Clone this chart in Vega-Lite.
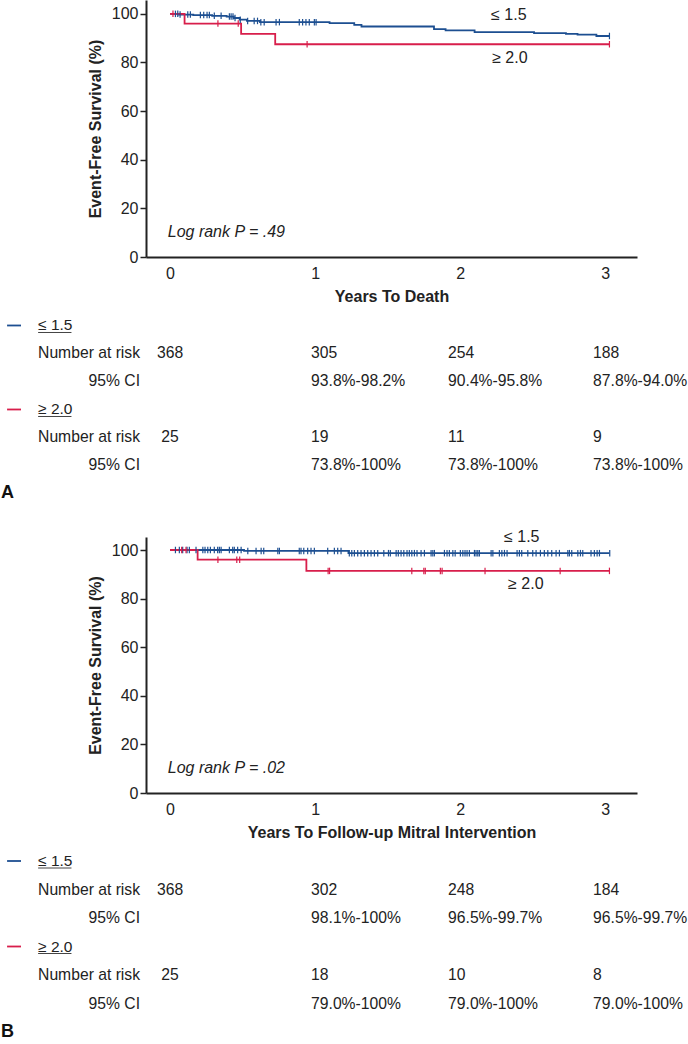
{
  "$schema": "https://vega.github.io/schema/vega-lite/v6.json",
  "padding": 0,
  "spacing": 0,
  "bounds": "flush",
  "config": {
    "font": "Liberation Sans",
    "view": {"stroke": null},
    "axis": {
      "grid": false,
      "labelColor": "#222",
      "titleColor": "#222",
      "domainColor": "#222",
      "tickColor": "#222",
      "labelFontSize": 16,
      "titleFontSize": 16,
      "domainWidth": 2,
      "tickWidth": 1.5,
      "labelFont": "Liberation Sans",
      "titleFont": "Liberation Sans"
    }
  },
  "datasets": {
    "curveA": [
      {"g": "lo", "t": 0, "s": 100}, {"g": "lo", "t": 0.06, "s": 99.7}, {"g": "lo", "t": 0.16, "s": 99.5},
      {"g": "lo", "t": 0.29, "s": 99.2}, {"g": "lo", "t": 0.39, "s": 98.9}, {"g": "lo", "t": 0.44, "s": 98.3},
      {"g": "lo", "t": 0.48, "s": 97.6}, {"g": "lo", "t": 0.53, "s": 97.1}, {"g": "lo", "t": 0.62, "s": 96.6},
      {"g": "lo", "t": 1.1, "s": 96.2}, {"g": "lo", "t": 1.27, "s": 95.5}, {"g": "lo", "t": 1.32, "s": 94.8},
      {"g": "lo", "t": 1.82, "s": 93.7}, {"g": "lo", "t": 1.9, "s": 93.2}, {"g": "lo", "t": 2.1, "s": 92.5},
      {"g": "lo", "t": 2.51, "s": 92.1}, {"g": "lo", "t": 2.73, "s": 91.8}, {"g": "lo", "t": 2.81, "s": 91.5},
      {"g": "lo", "t": 2.94, "s": 90.9}, {"g": "lo", "t": 3.03, "s": 90.9},
      {"g": "hi", "t": 0, "s": 100}, {"g": "hi", "t": 0.1, "s": 96.0}, {"g": "hi", "t": 0.49, "s": 91.8},
      {"g": "hi", "t": 0.725, "s": 87.5}, {"g": "hi", "t": 3.03, "s": 87.5}
    ],
    "censA": [
      {"g": "lo", "t": 0.037, "s": 100}, {"g": "lo", "t": 0.053, "s": 100}, {"g": "lo", "t": 0.069, "s": 99.7},
      {"g": "lo", "t": 0.122, "s": 99.7}, {"g": "lo", "t": 0.14, "s": 99.7}, {"g": "lo", "t": 0.209, "s": 99.5},
      {"g": "lo", "t": 0.232, "s": 99.5}, {"g": "lo", "t": 0.255, "s": 99.5}, {"g": "lo", "t": 0.271, "s": 99.5},
      {"g": "lo", "t": 0.305, "s": 99.2}, {"g": "lo", "t": 0.352, "s": 99.2}, {"g": "lo", "t": 0.409, "s": 98.9},
      {"g": "lo", "t": 0.421, "s": 98.9}, {"g": "lo", "t": 0.434, "s": 98.9}, {"g": "lo", "t": 0.448, "s": 98.3},
      {"g": "lo", "t": 0.484, "s": 97.6}, {"g": "lo", "t": 0.535, "s": 97.1}, {"g": "lo", "t": 0.58, "s": 97.1},
      {"g": "lo", "t": 0.603, "s": 97.1}, {"g": "lo", "t": 0.626, "s": 96.6}, {"g": "lo", "t": 0.649, "s": 96.6},
      {"g": "lo", "t": 0.731, "s": 96.6}, {"g": "lo", "t": 0.754, "s": 96.6}, {"g": "lo", "t": 0.891, "s": 96.6},
      {"g": "lo", "t": 0.914, "s": 96.6}, {"g": "lo", "t": 0.937, "s": 96.6}, {"g": "lo", "t": 0.96, "s": 96.6},
      {"g": "lo", "t": 0.995, "s": 96.6}, {"g": "lo", "t": 1.007, "s": 96.6}, {"g": "lo", "t": 3.03, "s": 90.9},
      {"g": "hi", "t": 0.02, "s": 100}, {"g": "hi", "t": 0.33, "s": 96.0}, {"g": "hi", "t": 0.47, "s": 96.0},
      {"g": "hi", "t": 0.945, "s": 87.5}, {"g": "hi", "t": 3.03, "s": 87.5}
    ],
    "curveB": [
      {"g": "lo", "t": 0, "s": 100}, {"g": "lo", "t": 0.51, "s": 99.6}, {"g": "lo", "t": 1.23, "s": 98.7},
      {"g": "lo", "t": 3.03, "s": 98.7},
      {"g": "hi", "t": 0, "s": 100}, {"g": "hi", "t": 0.19, "s": 96.0}, {"g": "hi", "t": 0.94, "s": 91.4},
      {"g": "hi", "t": 3.03, "s": 91.4}
    ],
    "censB": [
      {"g": "lo", "t": 0.037, "s": 100}, {"g": "lo", "t": 0.064, "s": 100}, {"g": "lo", "t": 0.087, "s": 100},
      {"g": "lo", "t": 0.117, "s": 100}, {"g": "lo", "t": 0.133, "s": 100}, {"g": "lo", "t": 0.179, "s": 100},
      {"g": "lo", "t": 0.226, "s": 100}, {"g": "lo", "t": 0.241, "s": 100}, {"g": "lo", "t": 0.26, "s": 100},
      {"g": "lo", "t": 0.278, "s": 100}, {"g": "lo", "t": 0.305, "s": 100}, {"g": "lo", "t": 0.328, "s": 100},
      {"g": "lo", "t": 0.34, "s": 100}, {"g": "lo", "t": 0.352, "s": 100}, {"g": "lo", "t": 0.409, "s": 100},
      {"g": "lo", "t": 0.432, "s": 100}, {"g": "lo", "t": 0.443, "s": 100}, {"g": "lo", "t": 0.466, "s": 100},
      {"g": "lo", "t": 0.49, "s": 100}, {"g": "lo", "t": 0.536, "s": 99.6}, {"g": "lo", "t": 0.593, "s": 99.6},
      {"g": "lo", "t": 0.628, "s": 99.6}, {"g": "lo", "t": 0.646, "s": 99.6}, {"g": "lo", "t": 0.743, "s": 99.6},
      {"g": "lo", "t": 0.754, "s": 99.6}, {"g": "lo", "t": 0.891, "s": 99.6}, {"g": "lo", "t": 0.903, "s": 99.6},
      {"g": "lo", "t": 0.922, "s": 99.6}, {"g": "lo", "t": 0.949, "s": 99.6}, {"g": "lo", "t": 0.972, "s": 99.6},
      {"g": "lo", "t": 0.995, "s": 99.6}, {"g": "lo", "t": 1.087, "s": 99.6}, {"g": "lo", "t": 1.133, "s": 99.6},
      {"g": "lo", "t": 1.156, "s": 99.6}, {"g": "lo", "t": 1.179, "s": 99.6}, {"g": "lo", "t": 1.236, "s": 98.7},
      {"g": "lo", "t": 1.253, "s": 98.7}, {"g": "lo", "t": 1.271, "s": 98.7}, {"g": "lo", "t": 1.294, "s": 98.7},
      {"g": "lo", "t": 1.317, "s": 98.7}, {"g": "lo", "t": 1.34, "s": 98.7}, {"g": "lo", "t": 1.363, "s": 98.7},
      {"g": "lo", "t": 1.386, "s": 98.7}, {"g": "lo", "t": 1.409, "s": 98.7}, {"g": "lo", "t": 1.432, "s": 98.7},
      {"g": "lo", "t": 1.474, "s": 98.7}, {"g": "lo", "t": 1.506, "s": 98.7}, {"g": "lo", "t": 1.519, "s": 98.7},
      {"g": "lo", "t": 1.559, "s": 98.7}, {"g": "lo", "t": 1.574, "s": 98.7}, {"g": "lo", "t": 1.593, "s": 98.7},
      {"g": "lo", "t": 1.612, "s": 98.7}, {"g": "lo", "t": 1.634, "s": 98.7}, {"g": "lo", "t": 1.65, "s": 98.7},
      {"g": "lo", "t": 1.667, "s": 98.7}, {"g": "lo", "t": 1.685, "s": 98.7}, {"g": "lo", "t": 1.703, "s": 98.7},
      {"g": "lo", "t": 1.731, "s": 98.7}, {"g": "lo", "t": 1.754, "s": 98.7}, {"g": "lo", "t": 1.8, "s": 98.7},
      {"g": "lo", "t": 1.812, "s": 98.7}, {"g": "lo", "t": 1.823, "s": 98.7}, {"g": "lo", "t": 1.892, "s": 98.7},
      {"g": "lo", "t": 1.91, "s": 98.7}, {"g": "lo", "t": 1.926, "s": 98.7}, {"g": "lo", "t": 1.95, "s": 98.7},
      {"g": "lo", "t": 1.966, "s": 98.7}, {"g": "lo", "t": 2.002, "s": 98.7}, {"g": "lo", "t": 2.019, "s": 98.7},
      {"g": "lo", "t": 2.034, "s": 98.7}, {"g": "lo", "t": 2.048, "s": 98.7}, {"g": "lo", "t": 2.064, "s": 98.7},
      {"g": "lo", "t": 2.099, "s": 98.7}, {"g": "lo", "t": 2.11, "s": 98.7}, {"g": "lo", "t": 2.122, "s": 98.7},
      {"g": "lo", "t": 2.133, "s": 98.7}, {"g": "lo", "t": 2.214, "s": 98.7}, {"g": "lo", "t": 2.226, "s": 98.7},
      {"g": "lo", "t": 2.271, "s": 98.7}, {"g": "lo", "t": 2.288, "s": 98.7}, {"g": "lo", "t": 2.306, "s": 98.7},
      {"g": "lo", "t": 2.324, "s": 98.7}, {"g": "lo", "t": 2.393, "s": 98.7}, {"g": "lo", "t": 2.409, "s": 98.7},
      {"g": "lo", "t": 2.425, "s": 98.7}, {"g": "lo", "t": 2.467, "s": 98.7}, {"g": "lo", "t": 2.501, "s": 98.7},
      {"g": "lo", "t": 2.524, "s": 98.7}, {"g": "lo", "t": 2.554, "s": 98.7}, {"g": "lo", "t": 2.581, "s": 98.7},
      {"g": "lo", "t": 2.605, "s": 98.7}, {"g": "lo", "t": 2.632, "s": 98.7}, {"g": "lo", "t": 2.662, "s": 98.7},
      {"g": "lo", "t": 2.685, "s": 98.7}, {"g": "lo", "t": 2.743, "s": 98.7}, {"g": "lo", "t": 2.754, "s": 98.7},
      {"g": "lo", "t": 2.77, "s": 98.7}, {"g": "lo", "t": 2.812, "s": 98.7}, {"g": "lo", "t": 2.83, "s": 98.7},
      {"g": "lo", "t": 2.846, "s": 98.7}, {"g": "lo", "t": 2.903, "s": 98.7}, {"g": "lo", "t": 2.926, "s": 98.7},
      {"g": "lo", "t": 2.945, "s": 98.7}, {"g": "lo", "t": 2.961, "s": 98.7}, {"g": "lo", "t": 3.032, "s": 98.7},
      {"g": "hi", "t": 0.08, "s": 100}, {"g": "hi", "t": 0.11, "s": 100}, {"g": "hi", "t": 0.33, "s": 96.0},
      {"g": "hi", "t": 0.46, "s": 96.0}, {"g": "hi", "t": 0.48, "s": 96.0}, {"g": "hi", "t": 1.09, "s": 91.4},
      {"g": "hi", "t": 1.1, "s": 91.4}, {"g": "hi", "t": 1.667, "s": 91.4}, {"g": "hi", "t": 1.75, "s": 91.4},
      {"g": "hi", "t": 1.76, "s": 91.4}, {"g": "hi", "t": 1.864, "s": 91.4}, {"g": "hi", "t": 1.876, "s": 91.4},
      {"g": "hi", "t": 2.172, "s": 91.4}, {"g": "hi", "t": 2.69, "s": 91.4}, {"g": "hi", "t": 3.03, "s": 91.4}
    ],
    "tabA": [
      {"r": 0, "k": "head", "g": "lo", "txt": "≤ 1.5"},
      {"r": 1, "k": "lab", "txt": "Number at risk"},
      {"r": 1, "k": "v", "c": 0, "txt": "368"}, {"r": 1, "k": "v", "c": 1, "txt": "305"},
      {"r": 1, "k": "v", "c": 2, "txt": "254"}, {"r": 1, "k": "v", "c": 3, "txt": "188"},
      {"r": 2, "k": "lab", "txt": "95% CI"},
      {"r": 2, "k": "v", "c": 1, "txt": "93.8%-98.2%"}, {"r": 2, "k": "v", "c": 2, "txt": "90.4%-95.8%"},
      {"r": 2, "k": "v", "c": 3, "txt": "87.8%-94.0%"},
      {"r": 3, "k": "head", "g": "hi", "txt": "≥ 2.0"},
      {"r": 4, "k": "lab", "txt": "Number at risk"},
      {"r": 4, "k": "v", "c": 0, "txt": "25"}, {"r": 4, "k": "v", "c": 1, "txt": "19"},
      {"r": 4, "k": "v", "c": 2, "txt": "11"}, {"r": 4, "k": "v", "c": 3, "txt": "9"},
      {"r": 5, "k": "lab", "txt": "95% CI"},
      {"r": 5, "k": "v", "c": 1, "txt": "73.8%-100%"}, {"r": 5, "k": "v", "c": 2, "txt": "73.8%-100%"},
      {"r": 5, "k": "v", "c": 3, "txt": "73.8%-100%"},
      {"r": 6, "k": "letter", "txt": "A"}
    ],
    "tabB": [
      {"r": 0, "k": "head", "g": "lo", "txt": "≤ 1.5"},
      {"r": 1, "k": "lab", "txt": "Number at risk"},
      {"r": 1, "k": "v", "c": 0, "txt": "368"}, {"r": 1, "k": "v", "c": 1, "txt": "302"},
      {"r": 1, "k": "v", "c": 2, "txt": "248"}, {"r": 1, "k": "v", "c": 3, "txt": "184"},
      {"r": 2, "k": "lab", "txt": "95% CI"},
      {"r": 2, "k": "v", "c": 1, "txt": "98.1%-100%"}, {"r": 2, "k": "v", "c": 2, "txt": "96.5%-99.7%"},
      {"r": 2, "k": "v", "c": 3, "txt": "96.5%-99.7%"},
      {"r": 3, "k": "head", "g": "hi", "txt": "≥ 2.0"},
      {"r": 4, "k": "lab", "txt": "Number at risk"},
      {"r": 4, "k": "v", "c": 0, "txt": "25"}, {"r": 4, "k": "v", "c": 1, "txt": "18"},
      {"r": 4, "k": "v", "c": 2, "txt": "10"}, {"r": 4, "k": "v", "c": 3, "txt": "8"},
      {"r": 5, "k": "lab", "txt": "95% CI"},
      {"r": 5, "k": "v", "c": 1, "txt": "79.0%-100%"}, {"r": 5, "k": "v", "c": 2, "txt": "79.0%-100%"},
      {"r": 5, "k": "v", "c": 3, "txt": "79.0%-100%"},
      {"r": 6, "k": "letter", "txt": "B"}
    ]
  },
  "vconcat": [
    {
      "width": 491,
      "height": 257,
      "layer": [
        {
          "data": {"name": "curveA"},
          "mark": {"type": "line", "interpolate": "step-after", "strokeWidth": 1.8},
          "encoding": {
            "x": {"field": "t", "type": "quantitative", "scale": {"domain": [-0.166, 3.22], "nice": false, "zero": false},
              "axis": {"values": [0, 1, 2, 3], "format": "d", "ticks": false, "labelPadding": 8, "title": "Years To Death", "titlePadding": 7, "titleFontWeight": "bold"}},
            "y": {"field": "s", "type": "quantitative", "scale": {"domain": [0, 105.7], "nice": false, "zero": false},
              "axis": {"values": [0, 20, 40, 60, 80, 100], "tickSize": 6, "labelPadding": 2, "title": "Event-Free Survival (%)", "titlePadding": 8, "titleFontWeight": "bold"}},
            "color": {"field": "g", "type": "nominal", "scale": {"domain": ["lo", "hi"], "range": ["#1d4f91", "#d81e4b"]}, "legend": null}
          }
        },
        {
          "data": {"name": "censA"},
          "mark": {"type": "tick", "orient": "vertical", "size": 6.5, "thickness": 1.2, "opacity": 1},
          "encoding": {
            "x": {"field": "t", "type": "quantitative"},
            "y": {"field": "s", "type": "quantitative"},
            "color": {"field": "g", "type": "nominal", "scale": {"domain": ["lo", "hi"], "range": ["#1d4f91", "#d81e4b"]}, "legend": null}
          }
        },
        {
          "data": {"values": [{}]},
          "mark": {"type": "text", "align": "left", "baseline": "middle", "fontSize": 16, "color": "#222", "text": "≤ 1.5"},
          "encoding": {"x": {"datum": 2.214}, "y": {"datum": 99.6}}
        },
        {
          "data": {"values": [{}]},
          "mark": {"type": "text", "align": "left", "baseline": "middle", "fontSize": 16, "color": "#222", "text": "≥ 2.0"},
          "encoding": {"x": {"datum": 2.221}, "y": {"datum": 81.9}}
        },
        {
          "data": {"values": [{}]},
          "mark": {"type": "text", "align": "left", "baseline": "middle", "fontSize": 16, "fontStyle": "italic", "color": "#222", "text": "Log rank P = .49"},
          "encoding": {"x": {"datum": -0.016}, "y": {"datum": 10.3}}
        }
      ]
    },
    {
      "width": 491,
      "height": 280,
      "data": {"name": "tabA"},
      "encoding": {
        "y": {"field": "r", "type": "quantitative", "scale": {"domain": [-2.446, 7.554], "reverse": true, "nice": false, "zero": false}, "axis": null}
      },
      "layer": [
        {
          "transform": [{"filter": "datum.k === 'lab'"}],
          "mark": {"type": "text", "align": "right", "baseline": "middle", "fontSize": 15.7, "color": "#222"},
          "encoding": {"x": {"datum": -0.207, "scale": {"domain": [-0.166, 3.22], "nice": false, "zero": false}, "axis": null}, "text": {"field": "txt"}}
        },
        {
          "transform": [{"filter": "datum.c === 0"}],
          "mark": {"type": "text", "align": "center", "baseline": "middle", "fontSize": 15.7, "color": "#222"},
          "encoding": {"x": {"field": "c", "type": "quantitative"}, "text": {"field": "txt"}}
        },
        {
          "transform": [{"filter": "datum.c === 1"}],
          "mark": {"type": "text", "align": "left", "baseline": "middle", "fontSize": 15.7, "color": "#222", "dx": -4},
          "encoding": {"x": {"field": "c", "type": "quantitative"}, "text": {"field": "txt"}}
        },
        {
          "transform": [{"filter": "datum.c >= 2"}],
          "mark": {"type": "text", "align": "left", "baseline": "middle", "fontSize": 15.7, "color": "#222", "dx": -12},
          "encoding": {"x": {"field": "c", "type": "quantitative"}, "text": {"field": "txt"}}
        },
        {
          "transform": [{"filter": "datum.k === 'head'"}],
          "mark": {"type": "text", "align": "left", "baseline": "middle", "fontSize": 15.5, "color": "#222"},
          "encoding": {"x": {"datum": -0.91}, "text": {"field": "txt"}}
        },
        {
          "transform": [{"filter": "datum.k === 'head'"}],
          "mark": {"type": "rule", "strokeWidth": 1, "color": "#444", "yOffset": 7},
          "encoding": {"x": {"datum": -0.91}, "x2": {"datum": -0.68}}
        },
        {
          "transform": [{"filter": "datum.k === 'head'"}],
          "mark": {"type": "rule", "strokeWidth": 1.8},
          "encoding": {"x": {"datum": -1.124}, "x2": {"datum": -1.028},
            "color": {"field": "g", "type": "nominal", "scale": {"domain": ["lo", "hi"], "range": ["#1d4f91", "#d81e4b"]}, "legend": null}}
        },
        {
          "transform": [{"filter": "datum.k === 'letter'"}],
          "mark": {"type": "text", "align": "left", "baseline": "middle", "fontSize": 18, "fontWeight": "bold", "color": "#111"},
          "encoding": {"x": {"datum": -1.166}, "text": {"field": "txt"}}
        }
      ]
    },
    {
      "width": 491,
      "height": 256,
      "layer": [
        {
          "data": {"name": "curveB"},
          "mark": {"type": "line", "interpolate": "step-after", "strokeWidth": 1.8},
          "encoding": {
            "x": {"field": "t", "type": "quantitative", "scale": {"domain": [-0.166, 3.22], "nice": false, "zero": false},
              "axis": {"values": [0, 1, 2, 3], "format": "d", "ticks": false, "labelPadding": 8, "title": "Years To Follow-up Mitral Intervention", "titlePadding": 7, "titleFontWeight": "bold"}},
            "y": {"field": "s", "type": "quantitative", "scale": {"domain": [0, 105.35], "nice": false, "zero": false},
              "axis": {"values": [0, 20, 40, 60, 80, 100], "tickSize": 6, "labelPadding": 2, "title": "Event-Free Survival (%)", "titlePadding": 8, "titleFontWeight": "bold"}},
            "color": {"field": "g", "type": "nominal", "scale": {"domain": ["lo", "hi"], "range": ["#1d4f91", "#d81e4b"]}, "legend": null}
          }
        },
        {
          "data": {"name": "censB"},
          "mark": {"type": "tick", "orient": "vertical", "size": 6.5, "thickness": 1.2, "opacity": 1},
          "encoding": {
            "x": {"field": "t", "type": "quantitative"},
            "y": {"field": "s", "type": "quantitative"},
            "color": {"field": "g", "type": "nominal", "scale": {"domain": ["lo", "hi"], "range": ["#1d4f91", "#d81e4b"]}, "legend": null}
          }
        },
        {
          "data": {"values": [{}]},
          "mark": {"type": "text", "align": "left", "baseline": "middle", "fontSize": 16, "color": "#222", "text": "≤ 1.5"},
          "encoding": {"x": {"datum": 2.303}, "y": {"datum": 105.2}}
        },
        {
          "data": {"values": [{}]},
          "mark": {"type": "text", "align": "left", "baseline": "middle", "fontSize": 16, "color": "#222", "text": "≥ 2.0"},
          "encoding": {"x": {"datum": 2.331}, "y": {"datum": 86.0}}
        },
        {
          "data": {"values": [{}]},
          "mark": {"type": "text", "align": "left", "baseline": "middle", "fontSize": 16, "fontStyle": "italic", "color": "#222", "text": "Log rank P = .02"},
          "encoding": {"x": {"datum": -0.016}, "y": {"datum": 10.3}}
        }
      ]
    },
    {
      "width": 491,
      "height": 251,
      "data": {"name": "tabB"},
      "encoding": {
        "y": {"field": "r", "type": "quantitative", "scale": {"domain": [-2.386, 6.421], "reverse": true, "nice": false, "zero": false}, "axis": null}
      },
      "layer": [
        {
          "transform": [{"filter": "datum.k === 'lab'"}],
          "mark": {"type": "text", "align": "right", "baseline": "middle", "fontSize": 15.7, "color": "#222"},
          "encoding": {"x": {"datum": -0.207, "scale": {"domain": [-0.166, 3.22], "nice": false, "zero": false}, "axis": null}, "text": {"field": "txt"}}
        },
        {
          "transform": [{"filter": "datum.c === 0"}],
          "mark": {"type": "text", "align": "center", "baseline": "middle", "fontSize": 15.7, "color": "#222"},
          "encoding": {"x": {"field": "c", "type": "quantitative"}, "text": {"field": "txt"}}
        },
        {
          "transform": [{"filter": "datum.c === 1"}],
          "mark": {"type": "text", "align": "left", "baseline": "middle", "fontSize": 15.7, "color": "#222", "dx": -4},
          "encoding": {"x": {"field": "c", "type": "quantitative"}, "text": {"field": "txt"}}
        },
        {
          "transform": [{"filter": "datum.c >= 2"}],
          "mark": {"type": "text", "align": "left", "baseline": "middle", "fontSize": 15.7, "color": "#222", "dx": -12},
          "encoding": {"x": {"field": "c", "type": "quantitative"}, "text": {"field": "txt"}}
        },
        {
          "transform": [{"filter": "datum.k === 'head'"}],
          "mark": {"type": "text", "align": "left", "baseline": "middle", "fontSize": 15.5, "color": "#222"},
          "encoding": {"x": {"datum": -0.91}, "text": {"field": "txt"}}
        },
        {
          "transform": [{"filter": "datum.k === 'head'"}],
          "mark": {"type": "rule", "strokeWidth": 1, "color": "#444", "yOffset": 7},
          "encoding": {"x": {"datum": -0.91}, "x2": {"datum": -0.68}}
        },
        {
          "transform": [{"filter": "datum.k === 'head'"}],
          "mark": {"type": "rule", "strokeWidth": 1.8},
          "encoding": {"x": {"datum": -1.124}, "x2": {"datum": -1.028},
            "color": {"field": "g", "type": "nominal", "scale": {"domain": ["lo", "hi"], "range": ["#1d4f91", "#d81e4b"]}, "legend": null}}
        },
        {
          "transform": [{"filter": "datum.k === 'letter'"}],
          "mark": {"type": "text", "align": "left", "baseline": "middle", "fontSize": 18, "fontWeight": "bold", "color": "#111"},
          "encoding": {"x": {"datum": -1.166}, "text": {"field": "txt"}}
        }
      ]
    }
  ]
}
